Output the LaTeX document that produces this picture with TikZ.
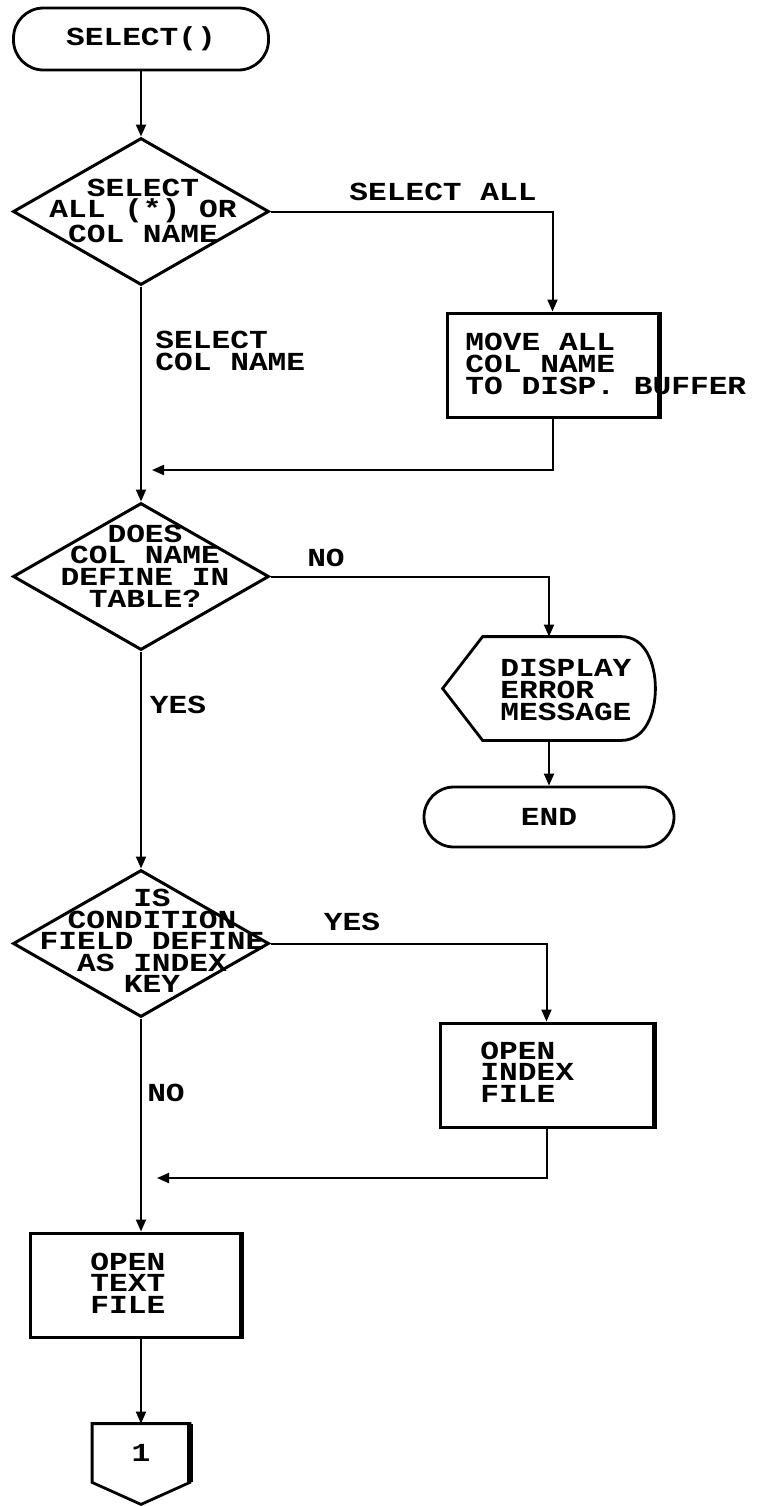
\documentclass[tikz,border=0pt]{standalone}
\usepackage{fontspec}
\usetikzlibrary{shapes.geometric,arrows.meta}
\newfontfamily\dotfont[FakeStretch=1.2]{Liberation Mono}
\begin{document}
\begin{tikzpicture}[x=0.5pt,y=-0.5pt,
  txt/.style={font=\dotfont\bfseries\fontsize{13}{10.8}\selectfont, inner sep=0pt},
  term/.style={draw, line width=1.4pt, rounded corners=15pt,
    minimum width=127.5pt, minimum height=31pt, inner sep=0pt, txt},
  decision/.style={draw, diamond, line width=1.5pt, inner sep=0pt,
    minimum width=128pt, minimum height=73.5pt},
  proc/.style={draw, line width=1.5pt, minimum width=105.5pt,
    minimum height=52pt},
  heavy/.style={line width=2.6pt},
  arr/.style={line width=1pt, -{Triangle[length=6pt,width=5pt]}}]
  \useasboundingbox (0,0) rectangle (764,1506);

  % main column
  \node[term] (start) at (141,39) {SELECT()};
  \node[decision] (d1) at (141,211.5) {};
  \node[txt, align=center] (t1) at (143,211) {SELECT\\ALL (*) OR\\COL NAME};
  \node[decision] (d2) at (141,576.5) {};
  \node[txt, align=center] (t2) at (145,566) {DOES\\COL NAME\\DEFINE IN\\TABLE?};
  \node[decision] (d3) at (141,943.5) {};
  \node[txt, align=center] (t3) at (152,941)
    {IS\\CONDITION\\FIELD DEFINE\\AS INDEX\\KEY};
  \node[proc, minimum width=105pt] (b3) at (135,1285) {};
  \node[txt, anchor=west, align=left] (t6) at (90,1283) {OPEN\\TEXT\\FILE};
  \node[txt, minimum width=48.5pt, minimum height=29pt] (conn) at (141,1453) {1};
  \draw[line width=1.4pt] (conn.north west) -- (conn.north east)
    -- (conn.south east) -- ([yshift=-11pt]conn.south)
    -- (conn.south west) -- cycle;

  % right column
  \node[proc] (b1) at (552.5,365) {};
  \node[txt, anchor=west, align=left] (t4) at (465,364)
    {MOVE ALL\\COL NAME\\TO DISP. BUFFER};
  \node[txt, minimum width=106pt, minimum height=51.5pt] (disp) at (549,688.5) {};
  \draw[line width=1.4pt] (disp.west) -- ([xshift=20pt]disp.north west)
    -- ([xshift=-17pt]disp.north east) to[out=0,in=90] (disp.east)
    to[out=-90,in=0] ([xshift=-17pt]disp.south east)
    -- ([xshift=20pt]disp.south west) -- cycle;
  \node[txt, anchor=west, align=left] (t5) at (500,690)
    {DISPLAY\\ERROR\\MESSAGE};
  \node[term, minimum width=125pt, minimum height=30pt] (endn) at (549,817) {END};
  \node[proc, minimum width=106.5pt] (b2) at (546.5,1075) {};
  \node[txt, anchor=west, align=left] (t7) at (480,1072) {OPEN\\INDEX\\FILE};

  % heavier right sides
  \draw[heavy] (b1.north east) -- (b1.south east);
  \draw[heavy] (b2.north east) -- (b2.south east);
  \draw[heavy] (b3.north east) -- (b3.south east);
  \draw[heavy] (conn.north east) -- (conn.south east);

  % merge points
  \coordinate (m1) at (152,470);
  \coordinate (m2) at (157,1178);

  % connectors
  \draw[arr] (start) -- (d1);
  \draw[arr] (d1.east) -| (b1.north);
  \draw[arr] (d1) -- (d2);
  \draw[arr] (b1.south) |- (m1);
  \draw[arr] (d2.east) -| (disp.north);
  \draw[arr] (disp.south) -- (endn.north);
  \draw[arr] (d2) -- (d3);
  \draw[arr] (d3.east) -| (b2.north);
  \draw[arr] (b2.south) |- (m2);
  \draw[arr] (d3.south) -- (d3.south |- b3.north);
  \draw[arr] (b3.south -| conn.north) -- (conn.north);

  % branch labels
  \node[txt] (lselall) at (443,192) {SELECT ALL};
  \node[txt, anchor=west, align=left] (lselcol) at (155,351) {SELECT\\COL NAME};
  \node[txt] (lno1) at (326,558) {NO};
  \node[txt] (lyes1) at (178,705) {YES};
  \node[txt] (lyes2) at (352,922) {YES};
  \node[txt] (lno2) at (166,1093) {NO};
\end{tikzpicture}
\end{document}
